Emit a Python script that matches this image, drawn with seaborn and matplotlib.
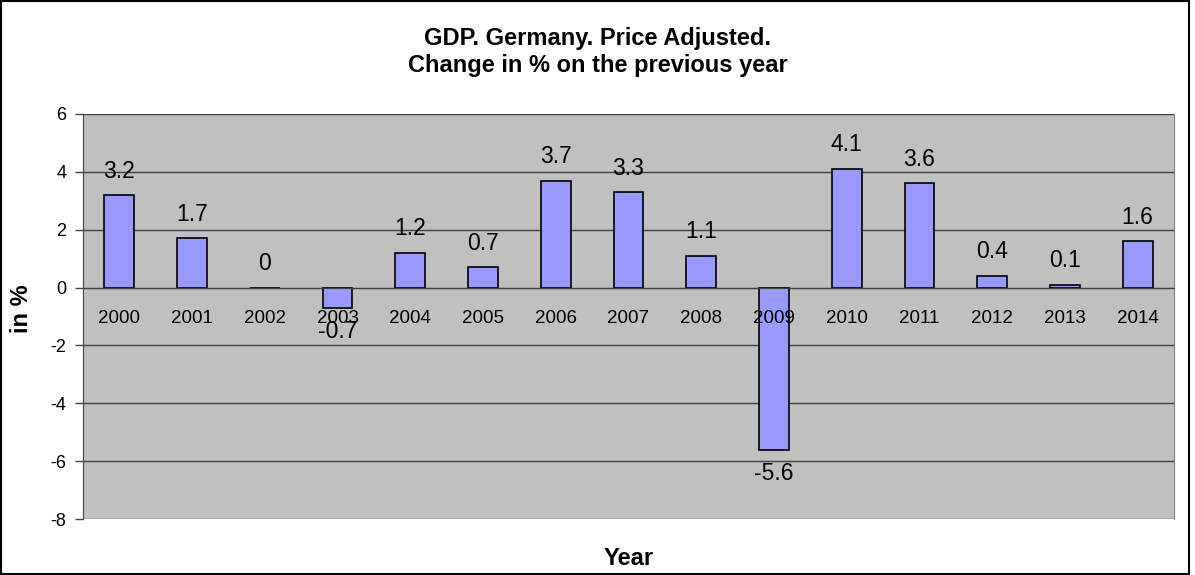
import matplotlib
matplotlib.use('Agg')
import matplotlib.pyplot as plt
import seaborn as sns
import numpy as np
import pandas as pd

years = ['2000', '2001', '2002', '2003', '2004', '2005', '2006', '2007',
         '2008', '2009', '2010', '2011', '2012', '2013', '2014']
gdp_change = [3.2, 1.7, 0, -0.7, 1.2, 0.7, 3.7, 3.3, 1.1, -5.6, 4.1, 3.6, 0.4, 0.1, 1.6]
y_ticks = [-8, -6, -4, -2, 0, 2, 4, 6]

df = pd.DataFrame({'Year': years, 'Change': gdp_change})

sns.set_style('white')
plt.rcParams['font.family'] = ['Liberation Sans', 'DejaVu Sans']
plt.rcParams['axes.unicode_minus'] = False
plt.rcParams['text.color'] = 'black'
plt.rcParams['axes.labelcolor'] = 'black'
plt.rcParams['xtick.color'] = 'black'
plt.rcParams['ytick.color'] = 'black'

W, H = 1195, 575
fig = plt.figure(figsize=(W / 100, H / 100), dpi=100)
ax = fig.add_axes([83 / W, (H - 519) / H, (1174 - 83) / W, (519 - 114) / H])
ax.set_facecolor('#C0C0C0')

# gridlines behind the bars, axis (with year labels) on top
for y in y_ticks:
    ax.axhline(y, color='#404040', lw=1, zorder=0.5)

sns.barplot(data=df, x='Year', y='Change', color='#9999FF', saturation=1,
            edgecolor='black', linewidth=1.2, width=0.41, ax=ax)

for c in ax.containers:
    ax.bar_label(c, labels=[f'{v:g}' for v in gdp_change], padding=9,
                 fontsize=16.5, color='black')

ax.set_ylim(y_ticks[0], y_ticks[-1])
ax.set_xlim(-0.5, len(years) - 0.5)
ax.set_yticks(y_ticks)
ax.grid(False)
ax.set_axisbelow(False)

# x axis crosses at zero, Excel style
ax.spines['bottom'].set_position(('data', 0))
ax.spines['bottom'].set_color('#404040')
ax.spines['top'].set_visible(False)
ax.spines['left'].set_color('#404040')
ax.spines['right'].set_color('#808080')
ax.set_xticks(np.arange(-0.5, len(years)), minor=True)
ax.tick_params(axis='x', which='major', length=0, pad=16, labelsize=13.5,
               labelcolor='black')
ax.tick_params(axis='x', which='minor', length=6, width=1, color='black', direction='out')
ax.tick_params(axis='y', length=6, width=1, color='#404040', direction='out',
               pad=6, labelsize=13, left=True, labelcolor='black')

ax.set_xlabel('Year', fontsize=17, fontweight='bold', color='black')
ax.xaxis.set_label_coords(0.5, -0.068)
ax.set_ylabel('in %', fontsize=17, fontweight='bold', color='black')
ax.yaxis.set_label_coords(-0.046, 0.52)

fig.suptitle('GDP. Germany. Price Adjusted.\nChange in % on the previous year',
             y=1 - 27 / H, va='top', fontsize=17, fontweight='bold', color='black')

fig.add_artist(plt.Rectangle((1 / W, 1 / H), (1189 - 1) / W, (H - 2) / H,
                             transform=fig.transFigure, fill=False,
                             ec='black', lw=1.5))

fig.savefig('out.png', dpi=100)
